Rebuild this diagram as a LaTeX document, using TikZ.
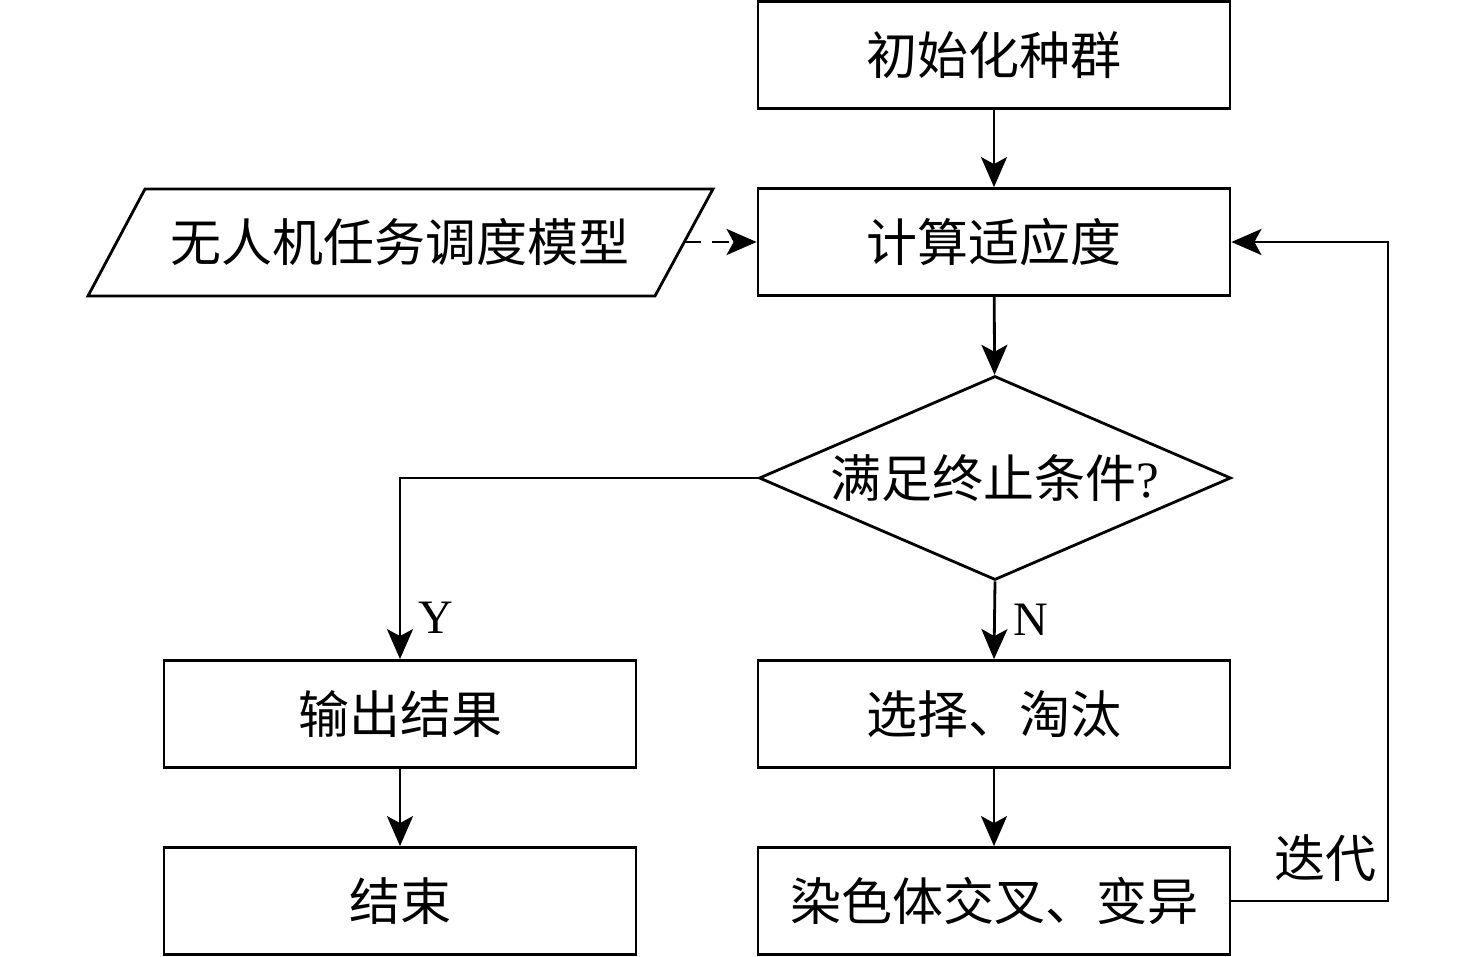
\documentclass[tikz,border=0pt]{standalone}
\usepackage{fontspec}
\setmainfont{Liberation Serif}
\newfontfamily\cjk{Noto Sans CJK SC}
\usetikzlibrary{arrows.meta,shapes.geometric}
\begin{document}
\begin{tikzpicture}[x=1pt,y=-1pt,
  every node/.style={font=\fontsize{50}{60}\selectfont},
  box/.style={draw,line width=2.8pt,minimum width=472pt,minimum height=107pt,inner sep=0pt,font=\cjk\fontsize{51}{60}\selectfont},
  arr/.style={line width=2.8pt,-{Stealth[length=30pt,width=26pt,inset=7pt]}},
  lbl/.style={font=\fontsize{48}{56}\selectfont}]
\fill[white] (0,0) rectangle (1476,957);
\useasboundingbox (0,0) rectangle (1476,957);
\node[box] (init) at (994,55) {初始化种群};
\node[box] (fit) at (994,242) {计算适应度};
\draw[line width=2.8pt] (145,189) -- (713,189) -- (655,296) -- (88,296) -- cycle;
\node[font=\cjk\fontsize{51}{60}\selectfont] (model) at (400,242) {无人机任务调度模型};
\coordinate (mr) at (684,242);
\node[diamond,draw,line width=2.8pt,aspect=2.3,minimum width=472pt,minimum height=204pt,inner sep=0pt,font=\cjk\fontsize{51}{60}\selectfont] (cond) at (995,478) {满足终止条件\textrm{?}};
\node[box] (out) at (400,714) {输出结果};
\node[box] (end) at (400,901) {结束};
\node[box] (sel) at (994,714) {选择、淘汰};
\node[box] (cross) at (994,901) {染色体交叉、变异};
\draw[arr] (init) -- (fit);
\draw[arr] (fit) -- (cond);
\draw[arr,dash pattern=on 17pt off 11pt] (mr) -- (fit.west);
\draw[arr] (cond.west) -| node[pos=0.885,right,lbl,xshift=14pt] {Y} (out.north);
\draw[arr] (cond.south) -- node[pos=0.5,right,lbl,xshift=14pt] {N} (sel.north);
\draw[arr] (out) -- (end);
\draw[arr] (sel) -- (cross);
\draw[arr] (cross.east) -- (1388,901) |- (fit.east);
\node[font=\cjk\fontsize{51}{60}\selectfont] (iter) at (1325,858) {迭代};
\end{tikzpicture}
\end{document}
